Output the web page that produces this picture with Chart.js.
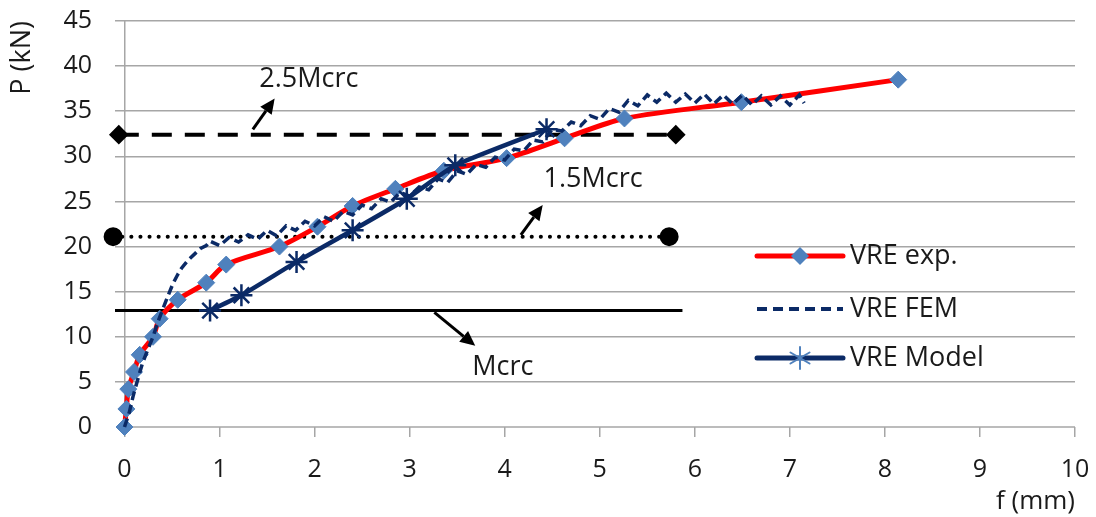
<!DOCTYPE html>
<html>
<head>
<meta charset="utf-8">
<script src="https://cdn.jsdelivr.net/npm/chart.js@4.4.1/dist/chart.umd.min.js"></script>
<style>
  body { margin: 0; background: #fff; }
  canvas { display: block; }
</style>
</head>
<body>
<canvas id="chart" width="1096" height="517"></canvas>
<script>
// values
const xTicks = [0, 1, 2, 3, 4, 5, 6, 7, 8, 9, 10];
const yTicks = [0, 5, 10, 15, 20, 25, 30, 35, 40, 45];
const seriesNames = ['VRE exp.', 'VRE FEM', 'VRE Model'];

const expX = [0, 0.02, 0.04, 0.1, 0.16, 0.3, 0.37, 0.56, 0.86, 1.07, 1.63, 2.03, 2.4, 2.85, 3.36, 4.02, 4.63, 5.26, 6.49, 8.14];
const expY = [0, 2, 4.2, 6.1, 8, 10, 12, 14.1, 16, 18, 20, 22.2, 24.5, 26.4, 28.4, 29.8, 32, 34.2, 36, 38.5];

const femX = [0, 0.05, 0.09, 0.14, 0.19, 0.25, 0.3, 0.35, 0.4, 0.46, 0.51, 0.56, 0.6, 0.67, 0.75, 0.8, 0.86,
  0.9, 1.0, 1.1, 1.2, 1.3, 1.4, 1.5, 1.6, 1.7, 1.8, 1.9, 2.0, 2.1, 2.2, 2.3, 2.4, 2.5, 2.6, 2.7, 2.8, 2.9,
  3.0, 3.1, 3.2, 3.3, 3.4, 3.5, 3.6, 3.7, 3.8, 3.9, 4.0, 4.1, 4.2, 4.3, 4.4, 4.5, 4.6, 4.7, 4.8, 4.9,
  5.0, 5.1, 5.2, 5.3, 5.4, 5.5, 5.6, 5.7, 5.8, 5.9, 6.0, 6.1, 6.2, 6.3, 6.4, 6.5, 6.6, 6.7, 6.8, 6.9,
  7.0, 7.1, 7.15];
const femY = [0, 1.6, 3.4, 5.3, 7.1, 8.7, 10, 11.6, 13, 14.6, 15.9, 16.9, 17.6, 18.5, 19.3, 19.8, 20.1,
  20.6, 20.1, 21.0, 20.5, 21.3, 20.8, 21.8, 21.2, 22.3, 21.8, 22.8, 22.3, 23.3, 22.8, 23.9, 23.5, 24.6, 24.2, 25.3, 24.9, 26.0,
  25.6, 26.6, 26.3, 27.5, 27.1, 28.4, 28.0, 29.1, 28.8, 29.9, 29.6, 30.8, 30.6, 31.8, 31.6, 33.0, 32.8, 33.8, 33.4, 34.5,
  34.1, 35.3, 34.9, 36.2, 35.6, 36.8, 36.0, 37.0, 36.0, 36.9, 35.9, 36.9, 35.8, 36.8, 35.8, 36.8, 35.7, 36.7, 35.7, 36.7,
  35.7, 36.8, 35.9];

const modelX = [0.9, 1.23, 1.81, 2.4, 2.97, 3.48, 4.44];
const modelY = [12.9, 14.6, 18.3, 21.8, 25.3, 29.0, 33.0];

// cracking moment levels
const crc25X = [-0.06, 5.8], crc25Y = [32.4, 32.4];
const crc15X = [-0.12, 5.73], crc15Y = [21.1, 21.1];
const crcX = [-0.1, 5.87], crcY = [12.9, 12.9];

const noteText = ['2.5Mcrc', '1.5Mcrc', 'Mcrc'];
const noteX = [1.94, 4.93, 3.98];
const noteY = [38.5, 27.4, 6.6];
// arrows: tail -> head
const arrowX0 = [1.35, 4.17, 3.26], arrowY0 = [33.0, 21.3, 12.7];
const arrowX1 = [1.58, 4.40, 3.69], arrowY1 = [36.4, 24.6, 9.0];

const FONT = "'Open Sans', sans-serif";
const TEXT = '#1a1a1a';
const GRID = '#a6a6a6';
const RED = '#ff0000';
const STEEL = '#4f81bd';
const NAVY = '#0b2a66';

const pts = (xs, ys) => xs.map((x, i) => ({ x: x, y: ys[i] }));

function arrow(ctx, x0, y0, x1, y1) {
    const a = Math.atan2(y1 - y0, x1 - x0);
    const len = 15, half = 7;
    const bx = x1 - len * Math.cos(a), by = y1 - len * Math.sin(a);
    ctx.beginPath();
    ctx.moveTo(x0, y0);
    ctx.lineTo(bx, by);
    ctx.stroke();
    ctx.beginPath();
    ctx.moveTo(x1, y1);
    ctx.lineTo(bx + half * Math.sin(a), by - half * Math.cos(a));
    ctx.lineTo(bx - half * Math.sin(a), by + half * Math.cos(a));
    ctx.closePath();
    ctx.fill();
}

const extras = {
    id: 'extras',
    beforeDatasetsDraw(chart) {
        const { ctx, scales: { x, y } } = chart;
        // x axis line from 0 to 10
        ctx.save();
        ctx.strokeStyle = GRID;
        ctx.lineWidth = 1.5;
        ctx.beginPath();
        ctx.moveTo(x.getPixelForValue(0), y.getPixelForValue(0));
        ctx.lineTo(x.getPixelForValue(10), y.getPixelForValue(0));
        ctx.stroke();
        ctx.restore();
    },
    afterDatasetsDraw(chart) {
        const { ctx, scales: { x, y } } = chart;
        ctx.save();
        // arrows and labels
        ctx.strokeStyle = '#000';
        ctx.fillStyle = '#000';
        ctx.lineWidth = 3;
        for (let i = 0; i < arrowX0.length; i++) {
            arrow(ctx, x.getPixelForValue(arrowX0[i]), y.getPixelForValue(arrowY0[i]),
                x.getPixelForValue(arrowX1[i]), y.getPixelForValue(arrowY1[i]));
        }
        ctx.fillStyle = TEXT;
        ctx.font = '27px ' + FONT;
        ctx.textAlign = 'center';
        ctx.textBaseline = 'middle';
        noteText.forEach((t, i) => ctx.fillText(t, x.getPixelForValue(noteX[i]), y.getPixelForValue(noteY[i])));

        // legend
        const lx0 = 757, lx1 = 843, tx = 850;
        const rows = [256, 309, 358];
        ctx.lineCap = 'round';
        // exp
        ctx.strokeStyle = RED; ctx.lineWidth = 5;
        ctx.beginPath(); ctx.moveTo(lx0, rows[0]); ctx.lineTo(lx1, rows[0]); ctx.stroke();
        ctx.fillStyle = STEEL;
        ctx.beginPath();
        ctx.moveTo(800, rows[0] - 9); ctx.lineTo(809, rows[0]); ctx.lineTo(800, rows[0] + 9); ctx.lineTo(791, rows[0]);
        ctx.closePath(); ctx.fill();
        // fem
        ctx.lineCap = 'butt';
        ctx.strokeStyle = NAVY; ctx.lineWidth = 4;
        ctx.setLineDash([10, 6]);
        ctx.beginPath(); ctx.moveTo(lx0, rows[1]); ctx.lineTo(lx1, rows[1]); ctx.stroke();
        ctx.setLineDash([]);
        // model
        ctx.lineCap = 'round';
        ctx.lineWidth = 5;
        ctx.beginPath(); ctx.moveTo(lx0, rows[2]); ctx.lineTo(lx1, rows[2]); ctx.stroke();
        ctx.strokeStyle = STEEL; ctx.lineWidth = 2;
        ctx.beginPath();
        for (let k = 0; k < 3; k++) {
            const a = Math.PI / 2 + k * Math.PI / 3;
            ctx.moveTo(800 - 11 * Math.cos(a), rows[2] - 11 * Math.sin(a));
            ctx.lineTo(800 + 11 * Math.cos(a), rows[2] + 11 * Math.sin(a));
        }
        ctx.stroke();

        ctx.fillStyle = TEXT;
        ctx.font = '27px ' + FONT;
        ctx.textAlign = 'left';
        seriesNames.forEach((n, i) => ctx.fillText(n, tx, rows[i]));
        ctx.restore();
    }
};

new Chart(document.getElementById('chart'), {
    type: 'scatter',
    data: {
        datasets: [
            {
                label: seriesNames[2],
                data: pts(modelX, modelY),
                showLine: true,
                borderColor: NAVY,
                borderWidth: 4.5,
                tension: 0.15,
                pointStyle: 'star',
                pointRadius: 11,
                pointBorderColor: NAVY,
                pointBorderWidth: 2.5,
                clip: false
            },
            {
                label: seriesNames[1],
                data: pts(femX, femY),
                showLine: true,
                borderColor: NAVY,
                borderWidth: 3.5,
                borderDash: [9, 5],
                tension: 0,
                pointRadius: 0,
                clip: false
            },
            {
                label: seriesNames[0],
                data: pts(expX, expY),
                showLine: true,
                borderColor: RED,
                borderWidth: 5,
                tension: 0.3,
                pointStyle: 'rectRot',
                pointRadius: 8.5,
                pointBackgroundColor: STEEL,
                pointBorderColor: STEEL,
                pointBorderWidth: 1,
                clip: false
            },
            {
                label: '2.5Mcrc',
                data: pts(crc25X, crc25Y),
                showLine: true,
                borderColor: '#000',
                borderWidth: 4,
                borderDash: [20, 13],
                pointStyle: 'rectRot',
                pointRadius: 7,
                pointBackgroundColor: '#000',
                pointBorderColor: '#000',
                clip: false
            },
            {
                label: '1.5Mcrc',
                data: pts(crc15X, crc15Y),
                showLine: true,
                borderColor: '#000',
                borderWidth: 4,
                borderDash: [0.1, 9],
                borderCapStyle: 'round',
                pointStyle: 'circle',
                pointRadius: 7.5,
                pointBackgroundColor: '#000',
                pointBorderColor: '#000',
                clip: false
            },
            {
                label: 'Mcrc',
                data: pts(crcX, crcY),
                showLine: true,
                borderColor: '#000',
                borderWidth: 3,
                pointRadius: 0,
                clip: false
            }
        ]
    },
    options: {
        responsive: false,
        animation: false,
        events: [],
        layout: { padding: { top: 21, right: 21, left: 0, bottom: 0 } },
        plugins: {
            legend: { display: false },
            tooltip: { enabled: false }
        },
        scales: {
            x: {
                type: 'linear',
                min: -0.1,
                max: 10,
                afterBuildTicks: s => { s.ticks = xTicks.map(v => ({ value: v })); },
                afterFit: s => { s.height = 90; },
                border: { display: false },
                grid: {
                    color: c => (c.tick && c.tick.value === 0) ? GRID : 'rgba(0,0,0,0)',
                    tickColor: GRID,
                    lineWidth: 1.5,
                    drawTicks: true,
                    tickLength: 10
                },
                ticks: {
                    font: { family: FONT, size: 25, lineHeight: 2.64 },
                    color: TEXT,
                    padding: 0,
                    maxRotation: 0,
                    autoSkip: false
                },
                title: {
                    display: true,
                    text: 'f (mm)',
                    align: 'end',
                    color: TEXT,
                    font: { family: FONT, size: 26 },
                    padding: { top: 0, bottom: 0 }
                }
            },
            y: {
                min: 0,
                max: 45,
                afterBuildTicks: s => { s.ticks = yTicks.map(v => ({ value: v })); },
                afterFit: s => { s.width = 115; },
                border: { display: false },
                grid: {
                    color: c => (c.tick && c.tick.value === 0) ? 'rgba(0,0,0,0)' : GRID,
                    tickColor: 'rgba(0,0,0,0)',
                    lineWidth: 1.5,
                    drawTicks: true,
                    tickLength: 23
                },
                ticks: {
                    font: { family: FONT, size: 25 },
                    color: TEXT,
                    padding: 0
                },
                title: {
                    display: true,
                    text: 'P (kN)',
                    align: 'end',
                    color: TEXT,
                    font: { family: FONT, size: 27 },
                    padding: { top: 6, bottom: 0 }
                }
            }
        }
    },
    plugins: [extras]
});
</script>
</body>
</html>
